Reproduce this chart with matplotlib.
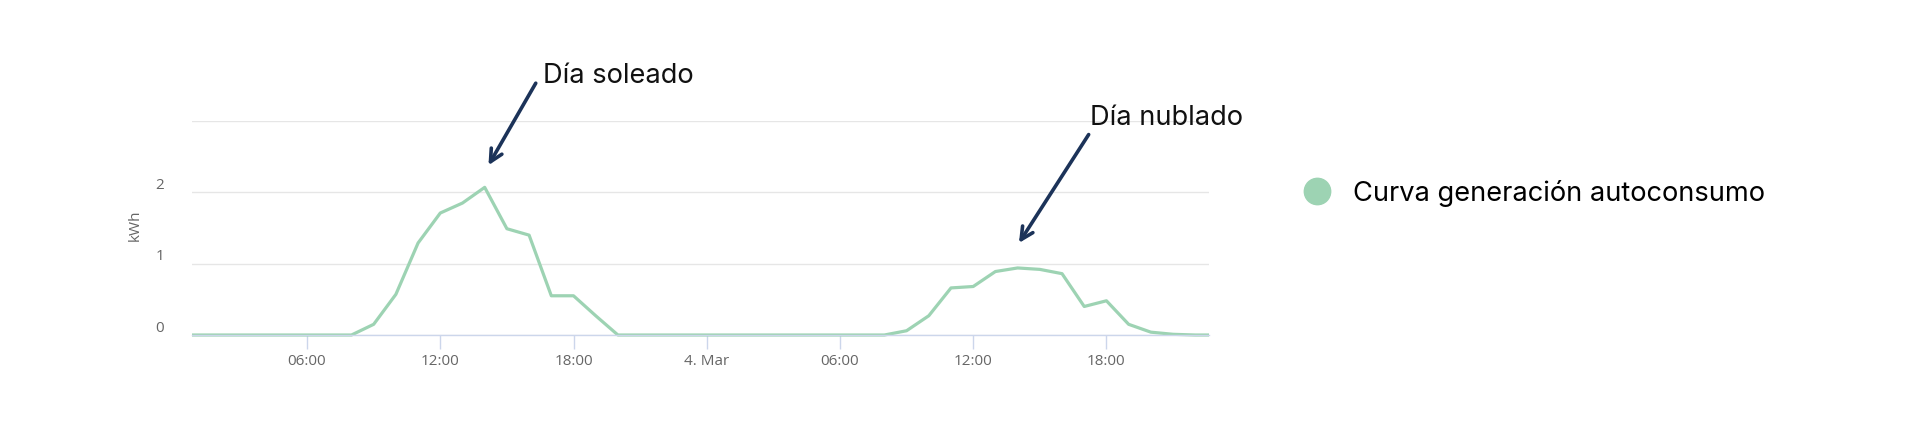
import matplotlib.pyplot as plt
from matplotlib.lines import Line2D
from matplotlib.patches import Rectangle
from matplotlib.transforms import ScaledTranslation

# hours since 00:00 on 3 Mar
hours = list(range(0, 48))
day1 = [0, 0, 0, 0, 0, 0, 0, 0, 0, 0.15, 0.57, 1.29, 1.71, 1.85, 2.07, 1.49,
        1.40, 0.55, 0.55, 0.27, 0, 0, 0, 0]
day2 = [0, 0, 0, 0, 0, 0, 0, 0, 0, 0.06, 0.27, 0.66, 0.68, 0.89, 0.94, 0.92,
        0.86, 0.40, 0.48, 0.15, 0.04, 0.01, 0, 0]
kwh = day1 + day2

tick_hours = [6, 12, 18, 24, 30, 36, 42]
tick_labels = ['06:00', '12:00', '18:00', '4. Mar', '06:00', '12:00', '18:00']
ytick_vals = [0, 1, 2, 3]
ytick_labels = ['0', '1', '2', '']

series_name = 'Curva generación autoconsumo'
green = '#9dd3b3'
navy = '#1c3359'
main_font = 'Inter'
tick_font = 'Open Sans'

fig = plt.figure(figsize=(19.2, 4.3), dpi=100)
ax = fig.add_axes([0.0999, 0.2209, 0.5298, 0.4977])

line, = ax.plot(hours, kwh, color=green, lw=2.3, solid_joinstyle='round')
line.set_clip_path(Rectangle((0, -0.2), 1, 1.4, transform=ax.transAxes))

ax.set_xlim(0.81, 46.62)
ax.set_ylim(0, 3)

ax.set_yticks(ytick_vals)
ax.set_yticklabels(ytick_labels, fontsize=11, color='#666666', family=tick_font)
ax.tick_params(axis='y', length=0, pad=20)
for lab in ax.get_yticklabels():
    lab.set_transform(lab.get_transform() + ScaledTranslation(0, 9 / 100, fig.dpi_scale_trans))
ax.grid(axis='y', color='#e6e6e6', lw=1)
ax.set_axisbelow(True)

ax.set_xticks(tick_hours)
ax.set_xticklabels(tick_labels, fontsize=11, color='#666666', family=tick_font)
ax.tick_params(axis='x', length=10, width=1, color='#ccd6eb', pad=4)

for s in ['top', 'right', 'left']:
    ax.spines[s].set_visible(False)
ax.spines['bottom'].set_color('#ccd6eb')
ax.spines['bottom'].set_linewidth(1)

ax.text(-0.0558, 0.514, 'kWh', transform=ax.transAxes, rotation=90,
        ha='center', va='center', fontsize=11, color='#666666', family=tick_font)

# annotations
ax.annotate('', xy=(14.17, 2.38), xytext=(16.3, 3.53), annotation_clip=False,
            arrowprops=dict(arrowstyle='->', lw=2.6, color=navy, mutation_scale=22,
                            shrinkA=0, shrinkB=0))
ax.text(16.63, 3.53, 'Día soleado', fontsize=19.6, family=main_font, color='#111111',
        va='baseline', ha='left', clip_on=False)

ax.annotate('', xy=(38.06, 1.29), xytext=(41.2, 2.81), annotation_clip=False,
            arrowprops=dict(arrowstyle='->', lw=2.6, color=navy, mutation_scale=22,
                            shrinkA=0, shrinkB=0))
ax.text(41.25, 2.94, 'Día nublado', fontsize=19.6, family=main_font, color='#111111',
        va='baseline', ha='left', clip_on=False)

handle = Line2D([], [], ls='none', marker='o', markersize=19, color=green)
fig.legend([handle], [series_name], loc='center left',
           bbox_to_anchor=(1305 / 1920, 1 - 193 / 430), frameon=False,
           prop={'family': main_font, 'size': 19.6}, handletextpad=0.85,
           borderpad=0, borderaxespad=0, handlelength=0.9)

fig.savefig('out.png', dpi=100)
